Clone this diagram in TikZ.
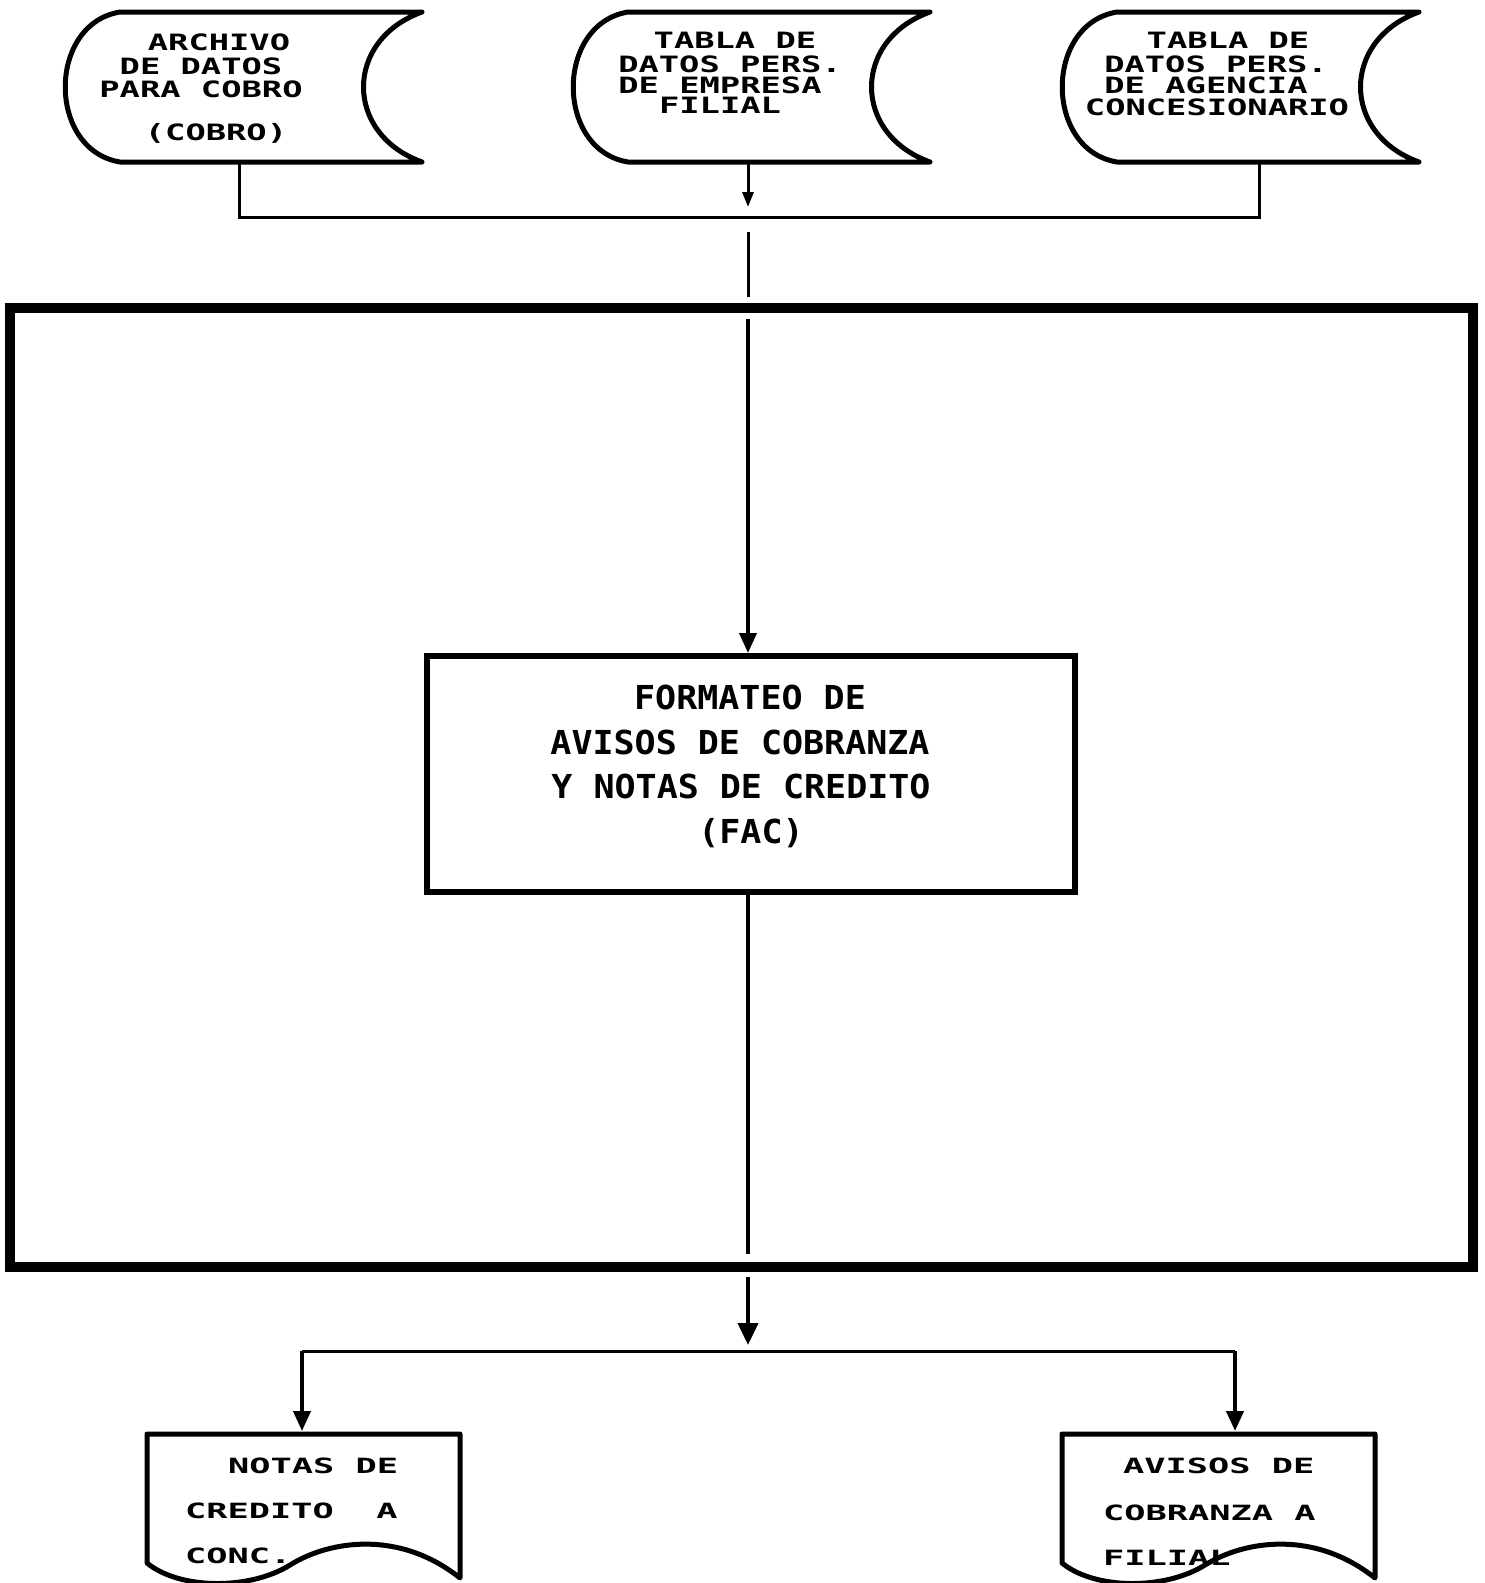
\documentclass[tikz,border=0pt]{standalone}
\usepackage{fontspec}
\usetikzlibrary{arrows.meta}
\newfontfamily\topfont[FakeStretch=1.5]{DejaVu Sans Mono}
\newfontfamily\docfont[FakeStretch=1.68]{DejaVu Sans Mono}
\newfontfamily\facfont[FakeStretch=1.06]{DejaVu Sans Mono}
\tikzset{
  shapeline/.style={line width=5pt, line join=round},
  conn/.style={line width=3pt},
  connb/.style={line width=4pt},
  toptxt/.style={anchor=base, inner sep=0pt, text height=16pt, text depth=0pt, font=\topfont\bfseries\fontsize{22.5}{22.5}\selectfont},
  doctxt/.style={anchor=base west, inner sep=0pt, font=\docfont\bfseries\fontsize{21}{21}\selectfont},
  factxt/.style={anchor=base, inner sep=0pt, font=\facfont\bfseries\fontsize{33}{33}\selectfont},
  tipS/.style={-{Triangle[length=15pt,width=11pt]}},
  tipM/.style={-{Triangle[length=20pt,width=17pt]}},
  tipL/.style={-{Triangle[length=22pt,width=20pt]}}
}
\begin{document}
\begin{tikzpicture}[x=1pt,y=-1pt]
\useasboundingbox[fill=white] (0,0) rectangle (1484,1583);

% stored data shapes
\foreach \L in {65,573,1062}{
  \draw[shapeline] ({\L+55},12) -- ({\L+357},12)
    .. controls ({\L+279},40) and ({\L+279},134) .. ({\L+357},162)
    -- ({\L+55},162)
    .. controls ({\L-18},150) and ({\L-18},24) .. ({\L+55},12) -- cycle;
}
\coordinate (s1b) at (239,162);
\coordinate (s2b) at (748,162);
\coordinate (s3b) at (1259,162);

\node[toptxt] (s1a) at (219,50) {ARCHIVO};
\node[toptxt] (s1c) at (201,74) {DE DATOS};
\node[toptxt] (s1d) at (201,97) {PARA COBRO};
\node[toptxt] (s1e) at (216,140) {(COBRO)};

\node[toptxt] (s2a) at (735,48) {TABLA DE};
\node[toptxt] (s2c) at (730,72) {DATOS PERS.};
\node[toptxt] (s2d) at (720,93) {DE EMPRESA};
\node[toptxt] (s2e) at (720,113) {FILIAL};

\node[toptxt] (s3a) at (1228,48) {TABLA DE};
\node[toptxt] (s3c) at (1216,72) {DATOS PERS.};
\node[toptxt] (s3d) at (1206,93) {DE AGENCIA};
\node[toptxt] (s3e) at (1217,115) {CONCESIONARIO};

% top connectors
\coordinate (jL) at (239,217);
\coordinate (jR) at (1259,217);
\coordinate (jM) at (748,207);
\draw[conn] (s1b) -- (jL) -- (jR) -- (s3b);
\draw[conn,tipS] (s2b) -- (jM);

% big box
\node[draw, line width=10pt, minimum width=1463pt, minimum height=959pt, inner sep=0pt] (big) at (741.5,787.5) {};

\coordinate (v1) at (748,232);
\coordinate (v2) at (748,297);
\coordinate (v3) at (748,319);
\draw[conn] (v1) -- (v2);

% FAC box
\node[draw, line width=6pt, minimum width=648pt, minimum height=236pt, inner sep=0pt] (fac) at (751,774) {};
\draw[connb,tipM] (v3) -- (748,653) coordinate (facin);
\node[factxt] (f1) at (750,709) {FORMATEO DE};
\node[factxt] (f2) at (740,754) {AVISOS DE COBRANZA};
\node[factxt] (f3) at (741,798) {Y NOTAS DE CREDITO};
\node[factxt] (f4) at (751,843) {(FAC)};

\coordinate (facout) at (748,895);
\coordinate (bboxin) at (748,1254);
\draw[connb] (facout) -- (bboxin);

% bottom connectors
\coordinate (bout) at (748,1277);
\coordinate (bj) at (748,1345);
\coordinate (bl) at (302,1351);
\coordinate (br) at (1235,1351);
\draw[connb,tipL] (bout) -- (bj);
\draw[conn] (bl) -- (br);

% documents
\foreach \L in {147,1062}{
  \draw[shapeline] (\L,1434) -- (\L,1563)
    .. controls ({\L+33},1590) and ({\L+103},1590) .. ({\L+143},1565)
    .. controls ({\L+183},1540) and ({\L+253},1530) .. ({\L+313},1578)
    -- ({\L+313},1434) -- cycle;
}
\coordinate (d1t) at (302,1431);
\coordinate (d2t) at (1235,1431);
\draw[connb,tipM] (bl) -- (d1t);
\draw[connb,tipM] (br) -- (d2t);

\node[doctxt] (d1a) at (228,1473) {NOTAS DE};
\node[doctxt] (d1b) at (185,1518) {CREDITO\hphantom{XX}A};
\node[doctxt] (d1c) at (185,1563) {CONC.};

\node[doctxt] (d2a) at (1123,1473) {AVISOS DE};
\node[doctxt] (d2b) at (1103,1520) {COBRANZA A};
\node[doctxt] (d2c) at (1103,1565) {FILIAL};
\end{tikzpicture}
\end{document}
